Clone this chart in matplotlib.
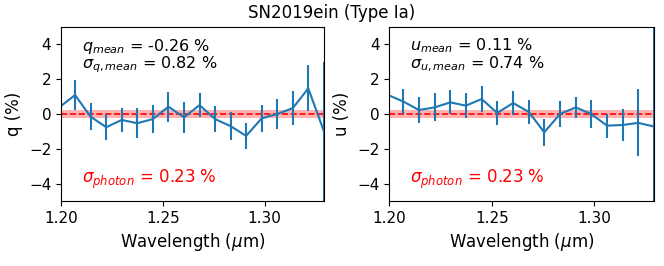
import numpy as np
import matplotlib
matplotlib.use("Agg")
import matplotlib.pyplot as plt

wavelength = [1.1993, 1.2069, 1.2145, 1.2222, 1.2298, 1.2374, 1.2451, 1.2527, 1.2604,
              1.2680, 1.2756, 1.2833, 1.2909, 1.2985, 1.3062, 1.3138, 1.3214, 1.3291]
q_vals = [0.40, 1.09, -0.15, -0.76, -0.34, -0.53, -0.29, 0.42, -0.19, 0.51, -0.29,
          -0.70, -1.26, -0.25, 0.00, 0.34, 1.47, -1.00]
q_errs = [0.80, 0.86, 0.76, 0.74, 0.71, 0.86, 0.79, 0.86, 0.88, 0.70, 0.73,
          0.81, 0.73, 0.77, 0.84, 1.00, 1.32, 4.00]
u_vals = [1.10, 0.72, 0.23, 0.38, 0.67, 0.48, 0.86, 0.06, 0.63, 0.13, -1.05,
          0.00, 0.38, 0.00, -0.67, -0.63, -0.51, -0.72]
u_errs = [0.70, 0.71, 0.74, 0.80, 0.69, 0.71, 0.76, 0.67, 0.67, 0.70, 0.78,
          0.74, 0.61, 0.78, 0.69, 0.90, 1.93, 6.00]
sigma_photon = 0.23
q_mean, q_sigma = -0.26, 0.82
u_mean, u_sigma = 0.11, 0.74
title = "SN2019ein (Type Ia)"

fig = plt.figure(figsize=(6.64, 2.66), dpi=100)
ax1 = fig.add_axes([0.0919, 0.2444, 0.396, 0.654])
ax2 = fig.add_axes([0.586, 0.2444, 0.399, 0.654])

panels = [
    (ax1, q_vals, q_errs, "q (%)",
     r"$q_{mean}$ = %.2f %%" % q_mean, r"$\sigma_{q,mean}$ = %.2f %%" % q_sigma),
    (ax2, u_vals, u_errs, "u (%)",
     r"$u_{mean}$ = %.2f %%" % u_mean, r"$\sigma_{u,mean}$ = %.2f %%" % u_sigma),
]
for ax, vals, errs, ylab, t1, t2 in panels:
    ax.axhspan(-sigma_photon, sigma_photon, color="red", alpha=0.3, lw=0)
    ax.axhline(0, color="red", ls="--", lw=1.2)
    ax.errorbar(wavelength, vals, yerr=errs, color="#1f77b4", lw=1.5, elinewidth=1.5, capsize=0)
    ax.set_xlim(1.20, 1.3291)
    ax.set_ylim(-5, 5)
    ax.set_xticks([1.20, 1.25, 1.30])
    ax.set_xticklabels(["1.20", "1.25", "1.30"])
    ax.set_yticks([-4, -2, 0, 2, 4])
    ax.set_yticklabels(["\u22124", "\u22122", "0", "2", "4"])
    ax.tick_params(labelsize=11)
    ax.set_xlabel(r"Wavelength ($\mu$m)", fontsize=12)
    ax.set_ylabel(ylab, fontsize=12)
    ax.text(0.079, 0.865, t1, transform=ax.transAxes, fontsize=11.5, va="baseline")
    ax.text(0.079, 0.760, t2, transform=ax.transAxes, fontsize=11.5, va="baseline")
    ax.text(0.079, 0.105, r"$\sigma_{photon}$ = %.2f %%" % sigma_photon, transform=ax.transAxes,
            fontsize=12, color="red", va="baseline")

fig.suptitle(title, fontsize=12, y=0.985)
fig.savefig("out.png", dpi=100)
